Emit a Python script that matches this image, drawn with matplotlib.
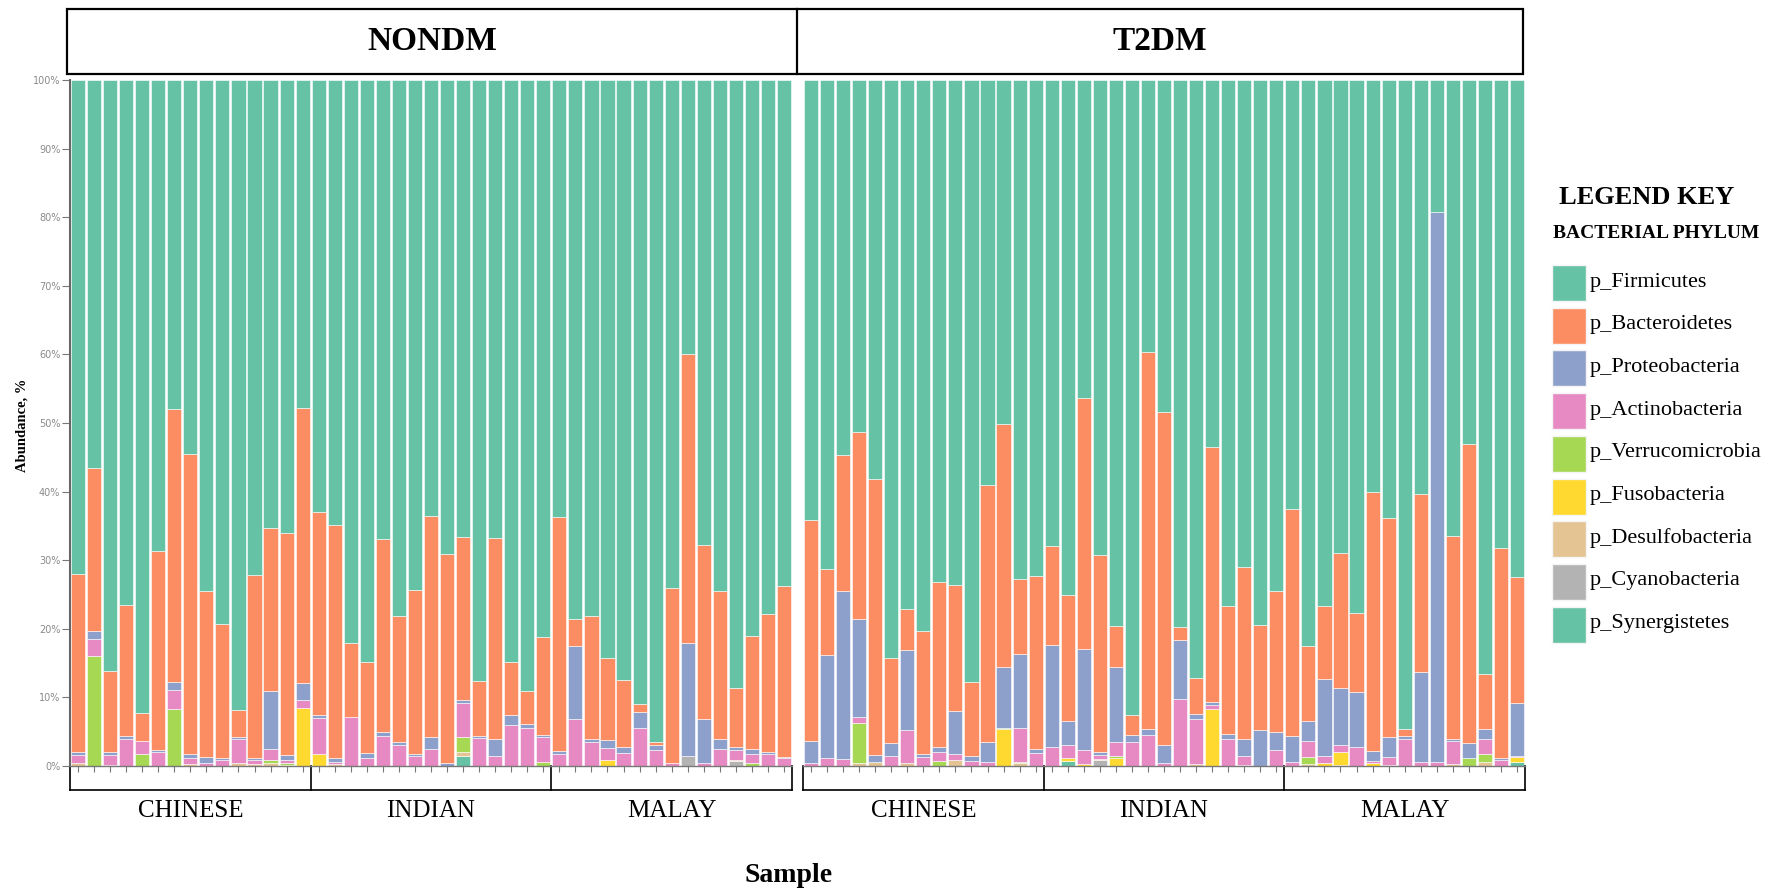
import numpy as np
import matplotlib.pyplot as plt
from matplotlib.patches import Rectangle
from matplotlib.lines import Line2D

# legend order (top of each stack first)
phyla = ['p_Firmicutes', 'p_Bacteroidetes', 'p_Proteobacteria', 'p_Actinobacteria',
         'p_Verrucomicrobia', 'p_Fusobacteria', 'p_Desulfobacteria', 'p_Cyanobacteria',
         'p_Synergistetes']
colors = ['#66c2a5', '#fc8d62', '#8da0cb', '#e78ac3', '#a6d854',
          '#ffd92f', '#e5c494', '#b3b3b3', '#66c2a5']

groups = ['CHINESE', 'INDIAN', 'MALAY']
per_group = 15
ytick_labels = ['0%', '10%', '20%', '30%', '40%', '50%', '60%', '70%', '80%', '90%', '100%']

# ---- NONDM relative abundance (%) ----
nondm_firmicutes = [72.0, 56.5, 86.1, 76.5, 92.3, 68.7, 48.0, 54.5, 74.5, 79.3, 91.8, 72.2, 65.3, 66.1, 47.8,
                    63.0, 64.9, 82.1, 84.8, 66.9, 78.2, 74.3, 63.5, 69.1, 66.6, 87.6, 66.8, 84.9, 89.1, 81.2,
                    63.7, 78.5, 78.2, 84.3, 87.5, 91.0, 96.5, 74.1, 40.0, 67.8, 74.5, 88.6, 81.0, 77.9, 73.7]
nondm_bacteroidetes = [26.0, 23.8, 11.8, 19.1, 4.1, 29.0, 39.8, 43.8, 24.2, 19.5, 4.0, 26.6, 23.8, 32.3, 40.1,
                       29.5, 34.0, 10.7, 13.35, 28.2, 18.25, 24.0, 32.3, 30.5, 23.8, 8.0, 29.2, 7.6, 4.8, 14.3,
                       34.1, 4.0, 17.9, 11.9, 9.8, 1.1, 0.4, 25.5, 42.1, 25.4, 21.6, 8.6, 16.5, 20.0, 24.95]
nondm_proteobacteria = [0.4, 1.2, 0.5, 0.5, 0, 0.3, 1.1, 0.5, 0.8, 0.3, 0.2, 0.3, 8.4, 0.7, 2.5,
                        0.5, 0.5, 0, 0.75, 0.5, 0.45, 0.25, 1.7, 0.4, 0.4, 0.3, 2.5, 1.5, 0.5, 0.2,
                        0.45, 10.7, 0.35, 1.2, 0.75, 2.3, 0.8, 0, 16.4, 6.3, 1.4, 0.5, 0.8, 0.4, 0.25]
nondm_actinobacteria = [1.1, 2.4, 1.4, 3.9, 1.9, 2.0, 2.8, 0.9, 0.5, 0.9, 3.6, 0.65, 1.6, 0.4, 1.1,
                        5.3, 0.35, 7.2, 1.1, 4.4, 3.1, 1.45, 2.5, 0, 5.0, 4.1, 1.5, 6.0, 5.6, 3.7,
                        1.75, 6.8, 3.55, 1.7, 1.95, 5.6, 2.3, 0.4, 0, 0.5, 2.5, 1.4, 1.2, 1.7, 1.1]
nondm_verrucomicrobia = [0, 16.1, 0, 0, 1.7, 0, 8.3, 0, 0, 0, 0, 0, 0.5, 0.35, 0,
                         0, 0, 0, 0, 0, 0, 0, 0, 0, 2.1, 0, 0, 0, 0, 0.6,
                         0, 0, 0, 0, 0, 0, 0, 0, 0, 0, 0, 0, 0.5, 0, 0]
nondm_fusobacteria = [0, 0, 0, 0, 0, 0, 0, 0, 0, 0, 0, 0, 0, 0, 8.5,
                      1.7, 0, 0, 0, 0, 0, 0, 0, 0, 0, 0, 0, 0, 0, 0,
                      0, 0, 0, 0.9, 0, 0, 0, 0, 0, 0, 0, 0, 0, 0, 0]
nondm_desulfobacteria = [0.5, 0, 0.2, 0, 0, 0, 0, 0.3, 0, 0, 0.4, 0.25, 0.4, 0.15, 0,
                         0, 0.25, 0, 0, 0, 0, 0, 0, 0, 0.6, 0, 0, 0, 0, 0,
                         0, 0, 0, 0, 0, 0, 0, 0, 0, 0, 0, 0.2, 0, 0, 0]
nondm_cyanobacteria = [0, 0, 0, 0, 0, 0, 0, 0, 0, 0, 0, 0, 0, 0, 0,
                       0, 0, 0, 0, 0, 0, 0, 0, 0, 0, 0, 0, 0, 0, 0,
                       0, 0, 0, 0, 0, 0, 0, 0, 1.5, 0, 0, 0.7, 0, 0, 0]
nondm_synergistetes = [0, 0, 0, 0, 0, 0, 0, 0, 0, 0, 0, 0, 0, 0, 0,
                       0, 0, 0, 0, 0, 0, 0, 0, 0, 1.5, 0, 0, 0, 0, 0,
                       0, 0, 0, 0, 0, 0, 0, 0, 0, 0, 0, 0, 0, 0, 0]

# ---- T2DM relative abundance (%) ----
t2dm_firmicutes = [64.1, 71.3, 54.6, 51.3, 58.2, 84.3, 77.1, 80.3, 73.2, 73.6, 87.8, 59.1, 50.1, 72.7, 72.3,
                   67.9, 75.1, 46.4, 69.2, 79.6, 92.6, 39.7, 48.4, 79.7, 87.1, 53.5, 76.7, 71.0, 79.5, 74.5,
                   62.6, 82.5, 76.7, 68.9, 77.7, 60.0, 63.9, 94.6, 60.3, 19.2, 66.4, 53.0, 86.6, 68.2, 72.5]
t2dm_bacteroidetes = [32.2, 12.5, 19.9, 27.2, 40.2, 12.4, 6.0, 18.0, 24.1, 18.4, 10.7, 37.45, 35.4, 10.95, 25.2,
                      14.5, 18.4, 36.5, 28.8, 6.0, 2.9, 54.9, 48.5, 1.9, 5.3, 37.1, 18.6, 25.1, 15.3, 20.6,
                      33.0, 10.9, 10.65, 19.8, 11.45, 37.8, 31.9, 1.0, 26.0, 0, 29.7, 43.6, 8.0, 30.6, 18.25]
t2dm_proteobacteria = [3.3, 15.0, 24.5, 14.3, 1.05, 1.8, 11.7, 0.4, 0.6, 6.25, 0.7, 2.9, 8.9, 10.85, 0.55,
                       14.9, 3.5, 14.7, 0.4, 10.95, 1.05, 0.9, 2.7, 8.7, 0.7, 0.5, 0.8, 2.4, 5.2, 2.6,
                       3.85, 2.9, 11.15, 8.3, 8.15, 1.4, 2.85, 0.4, 13.15, 80.25, 0.25, 2.2, 1.4, 0.3, 7.75]
t2dm_actinobacteria = [0.4, 1.2, 1.0, 0.9, 0, 1.5, 4.8, 1.3, 1.4, 0.85, 0.8, 0.55, 0, 4.9, 1.95,
                       2.7, 1.9, 2.15, 0.6, 1.95, 3.45, 4.5, 0.4, 9.7, 6.65, 0.6, 3.9, 1.35, 0, 2.3,
                       0.55, 2.35, 1.1, 0.9, 2.7, 0.4, 1.2, 4.0, 0.55, 0.55, 3.4, 0, 2.3, 0.9, 0.15]
t2dm_verrucomicrobia = [0, 0, 0, 5.9, 0, 0, 0, 0, 0.7, 0, 0, 0, 0.2, 0.2, 0,
                        0, 0, 0, 0, 0.4, 0, 0, 0, 0, 0, 0, 0, 0, 0, 0,
                        0, 1.1, 0, 0, 0, 0, 0, 0, 0, 0, 0, 1.2, 1.15, 0, 0]
t2dm_fusobacteria = [0, 0, 0, 0, 0, 0, 0, 0, 0, 0, 0, 0, 5.4, 0, 0,
                     0, 0.3, 0.25, 0, 1.1, 0, 0, 0, 0, 0, 8.3, 0, 0, 0, 0,
                     0, 0, 0.4, 1.95, 0, 0.4, 0, 0, 0, 0, 0, 0, 0, 0, 0.8]
t2dm_desulfobacteria = [0, 0, 0, 0.4, 0.55, 0, 0.4, 0, 0, 0.9, 0, 0, 0, 0.4, 0,
                        0, 0, 0, 0.1, 0, 0, 0, 0, 0, 0.25, 0, 0, 0.15, 0, 0,
                        0, 0.25, 0, 0.15, 0, 0, 0.15, 0, 0, 0, 0.25, 0, 0.55, 0, 0]
t2dm_cyanobacteria = [0, 0, 0, 0, 0, 0, 0, 0, 0, 0, 0, 0, 0, 0, 0,
                      0, 0, 0, 0.9, 0, 0, 0, 0, 0, 0, 0, 0, 0, 0, 0,
                      0, 0, 0, 0, 0, 0, 0, 0, 0, 0, 0, 0, 0, 0, 0]
t2dm_synergistetes = [0, 0, 0, 0, 0, 0, 0, 0, 0, 0, 0, 0, 0, 0, 0,
                      0, 0.8, 0, 0, 0, 0, 0, 0, 0, 0, 0, 0, 0, 0, 0,
                      0, 0, 0, 0, 0, 0, 0, 0, 0, 0, 0, 0, 0, 0, 0.55]

nondm = [nondm_firmicutes, nondm_bacteroidetes, nondm_proteobacteria, nondm_actinobacteria,
         nondm_verrucomicrobia, nondm_fusobacteria, nondm_desulfobacteria, nondm_cyanobacteria,
         nondm_synergistetes]
t2dm = [t2dm_firmicutes, t2dm_bacteroidetes, t2dm_proteobacteria, t2dm_actinobacteria,
        t2dm_verrucomicrobia, t2dm_fusobacteria, t2dm_desulfobacteria, t2dm_cyanobacteria,
        t2dm_synergistetes]

serif = 'Liberation Serif'
W, H = 1785, 889
fig = plt.figure(figsize=(W / 100, H / 100), dpi=100)


def fx(px):
    return px / W


def fy(py):
    return 1 - py / H


def draw_panel(ax, series, show_y):
    n = len(series[0])
    x = np.arange(n)
    bottom = np.zeros(n)
    # stack from the last legend entry upwards
    for vals, color in zip(series[::-1], colors[::-1]):
        vals = np.asarray(vals, dtype=float)
        keep = vals > 0
        ax.bar(x[keep], vals[keep], bottom=bottom[keep], width=0.88, color=color,
               edgecolor='white', linewidth=0.4)
        bottom += vals
    ax.set_xlim(-0.5, n - 0.5)
    ax.set_ylim(0, 100)
    ax.set_xticks(x)
    ax.set_xticklabels([])
    ax.tick_params(axis='x', length=4, width=0.8, color='#777777')
    for s in ['top', 'right']:
        ax.spines[s].set_visible(False)
    ax.spines['bottom'].set_color('#777777')
    ax.spines['bottom'].set_linewidth(1.0)
    if show_y:
        ax.set_yticks(np.arange(0, 101, 10))
        ax.set_yticklabels(ytick_labels, fontsize=7, color='#8a8a8a')
        ax.tick_params(axis='y', length=6, width=0.8, color='#777777', pad=1)
        ax.spines['left'].set_color('#666666')
        ax.spines['left'].set_linewidth(1.5)
    else:
        ax.set_yticks([])
        ax.spines['left'].set_visible(False)

    # group brackets under the axis
    tr = ax.get_xaxis_transform()
    y_low = -0.035
    ax.plot([-0.5, n - 0.5], [y_low, y_low], transform=tr, color='black', lw=1.2, clip_on=False)
    edges = [-0.5 + k * per_group for k in range(len(groups) + 1)]
    for e in edges:
        ax.plot([e, e], [0.0, y_low], transform=tr, color='black', lw=1.2, clip_on=False)
    for k, g in enumerate(groups):
        ax.text(edges[k] + per_group / 2, -0.065, g, transform=tr, ha='center', va='center',
                fontsize=18, family=serif)


ax1 = fig.add_axes([fx(70), fy(766), fx(722), 686 / H])
ax2 = fig.add_axes([fx(803), fy(766), fx(722), 686 / H])
draw_panel(ax1, nondm, True)
draw_panel(ax2, t2dm, False)

# header boxes
fig.patches.append(Rectangle((fx(67), fy(74)), fx(1523 - 67), (74 - 9) / H, transform=fig.transFigure,
                             fill=False, edgecolor='black', linewidth=1.6))
fig.lines.append(Line2D([fx(797), fx(797)], [fy(9), fy(74)], transform=fig.transFigure,
                        color='black', linewidth=1.6))
fig.text(fx(432), fy(41), 'NONDM', ha='center', va='center', fontsize=24, fontweight='bold', family=serif)
fig.text(fx(1160), fy(41), 'T2DM', ha='center', va='center', fontsize=24, fontweight='bold', family=serif)

# axis titles
fig.text(fx(22), fy(425), 'Abundance, %', rotation=90, ha='center', va='center',
         fontsize=10.5, fontweight='bold', family=serif)
fig.text(fx(789), fy(876), 'Sample', ha='center', va='center', fontsize=20,
         fontweight='bold', family=serif)

# legend key
fig.text(fx(1647), fy(197), 'LEGEND KEY', ha='center', va='center', fontsize=19,
         fontweight='bold', family=serif)
fig.text(fx(1656), fy(233), 'BACTERIAL PHYLUM', ha='center', va='center', fontsize=14,
         fontweight='bold', family=serif)
for i, (name, color) in enumerate(zip(phyla, colors)):
    top = 265 + i * 42.7
    fig.patches.append(Rectangle((fx(1552), fy(top + 36)), fx(34), 36 / H, transform=fig.transFigure,
                                 facecolor=color, edgecolor='#f4f4f4', linewidth=1.0))
    fig.text(fx(1590), fy(top + 17), name, ha='left', va='center', fontsize=16, family=serif)

fig.savefig('out.png', dpi=100)
